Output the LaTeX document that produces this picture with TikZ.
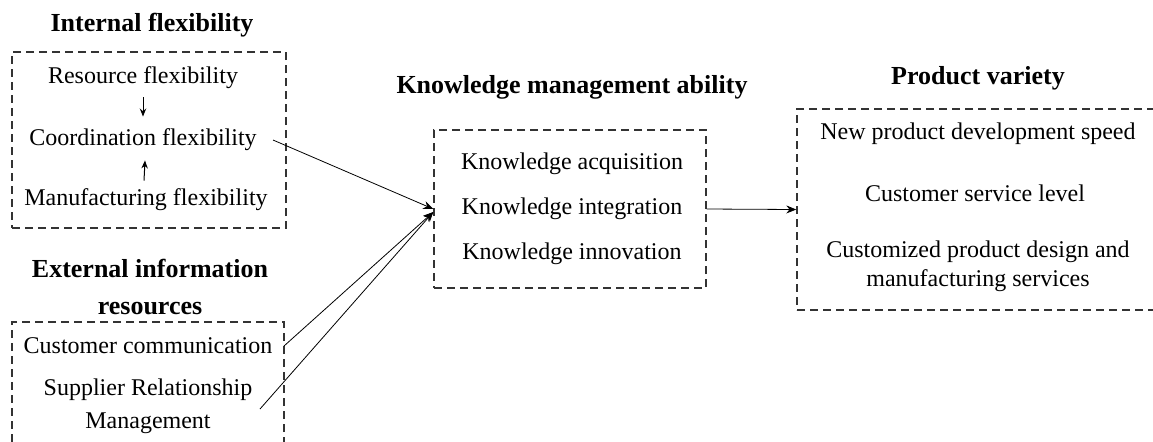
\documentclass[tikz,border=0pt]{standalone}
\usepackage{fontspec}
\setmainfont{Liberation Serif}
\usetikzlibrary{arrows.meta}
\begin{document}
\begin{tikzpicture}[x=0.5pt,y=-0.5pt,
  box/.style={draw=black!80, line width=0.7pt, dash pattern=on 4pt off 2.5pt, inner sep=0pt},
  item/.style={font=\fontsize{12}{14.5}\selectfont, inner sep=0pt, align=center},
  head/.style={font=\fontsize{13}{18.5}\selectfont\bfseries, inner sep=0pt, align=center},
  link/.style={line width=0.4pt, -{Stealth[length=5pt,width=4pt]}},
  small/.style={line width=0.5pt, -{Stealth[length=4pt,width=3.2pt]}}]
\useasboundingbox (0,0) rectangle (1153,441);

% dashed group frames
\node[box, minimum width=137pt, minimum height=88pt] (ifx) at (149,140) {};
\node[box, minimum width=136pt, minimum height=62pt] (ext) at (148,384) {};
\node[box, minimum width=136pt, minimum height=79pt] (km) at (570,209) {};
\node[box, minimum width=179pt, minimum height=100.5pt] (pv) at (976,209.5) {};

% headings
\node[head] (h1) at (152,25) {Internal flexibility};
\node[head] (h2) at (150,287) {External information\\resources};
\node[head] (h3) at (572,87) {Knowledge management ability};
\node[head] (h4) at (978,78) {Product variety};

% internal flexibility
\node[item] (res) at (143,78) {Resource flexibility};
\node[item] (coo) at (143,140) {Coordination flexibility};
\node[item] (man) at (146,200) {Manufacturing flexibility};
\draw[small] ([yshift=-4pt]res.south) -- ([yshift=6pt]coo.north);
\draw[small] ([xshift=-1pt,yshift=4pt]man.north) -- ([xshift=1pt,yshift=-4.5pt]coo.south);

% external information resources
\node[item] (cus) at (148,346) {Customer communication};
\node[item, font=\fontsize{12}{16.5}\selectfont] (sup) at (148,406) {Supplier Relationship\\Management};

% knowledge management ability
\node[item] (acq) at (572,164) {Knowledge acquisition};
\node[item] (int) at (572,209) {Knowledge integration};
\node[item] (inn) at (572,254) {Knowledge innovation};

% product variety
\node[item] (npd) at (978,134) {New product development speed};
\node[item] (csl) at (975,193) {Customer service level};
\node[item] (cpd) at (978,266) {Customized product design and\\manufacturing services};

% connectors
\coordinate (c1) at (273,140);
\coordinate (c2) at (284,346);
\coordinate (c3) at (260,409);
\draw[link] (c1) -- (km.west);
\draw[link] (c2) -- ([yshift=-1.5pt]km.west);
\draw[link] (c3) -- ([yshift=-1.5pt]km.west);
\draw[link] (km.east) -- (pv.west);
\end{tikzpicture}
\end{document}
